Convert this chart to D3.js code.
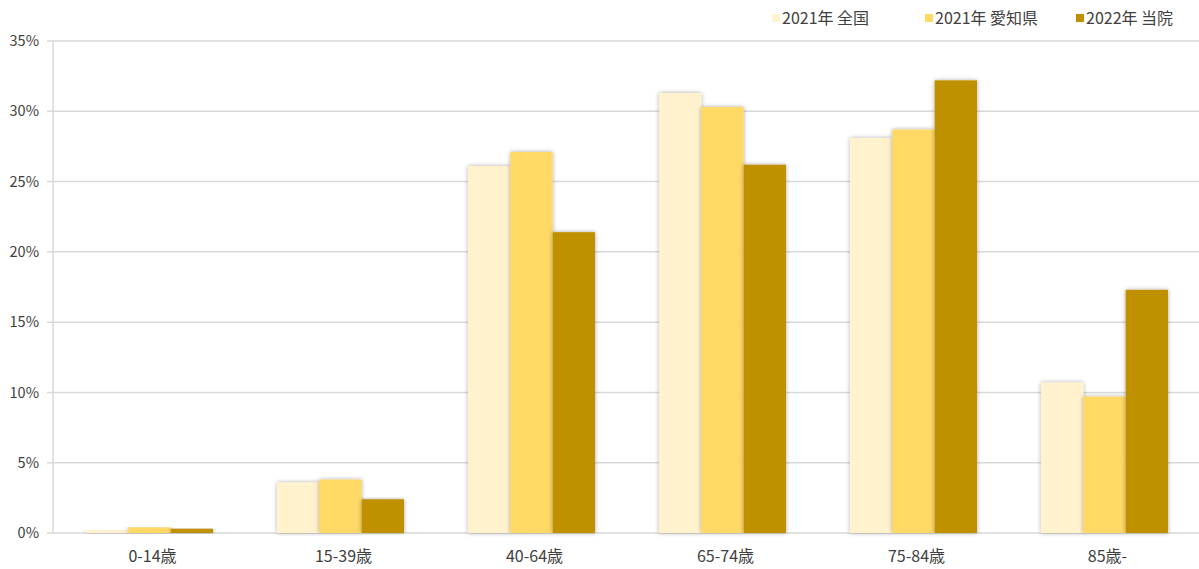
<!DOCTYPE html>
<html>
<head>
<meta charset="utf-8">
<script src="https://cdn.jsdelivr.net/npm/d3@7"></script>
<style>
  body { margin: 0; background: #fff; }
  text { font-family: "Noto Sans CJK JP", "Noto Sans", sans-serif; fill: #404040; }
</style>
</head>
<body>
<div id="chart"></div>
<script>
var categories = ["0-14歳", "15-39歳", "40-64歳", "65-74歳", "75-84歳", "85歳-"];
var seriesNames = ["2021年 全国", "2021年 愛知県", "2022年 当院"];
var national = [0.2, 3.6, 26.1, 31.3, 28.1, 10.7];
var aichi = [0.4, 3.8, 27.1, 30.3, 28.7, 9.7];
var hospital = [0.3, 2.4, 21.4, 26.2, 32.2, 17.3];
var yTicks = [0, 5, 10, 15, 20, 25, 30, 35];
var colors = ["#FFF2CC", "#FFD966", "#BF9000"];

var width = 1199, height = 569;
var margin = {top: 41, right: 0, bottom: 36, left: 53};

var values = [national, aichi, hospital];
var data = categories.map((c, i) => ({cat: c, vals: values.map(v => v[i])}));

var svg = d3.select("#chart").append("svg")
    .attr("width", width)
    .attr("height", height);

var defs = svg.append("defs");
var f = defs.append("filter").attr("id", "shadow")
    .attr("x", "-20%").attr("y", "-5%").attr("width", "140%").attr("height", "110%");
f.append("feDropShadow")
    .attr("dx", 0).attr("dy", 0).attr("stdDeviation", 2)
    .attr("flood-color", "#000").attr("flood-opacity", 0.35);

x0 = d3.scaleBand()
    .domain(categories)
    .range([margin.left + 1, width - margin.right + 1])
    .paddingInner(0.335)
    .paddingOuter(0.1675);

x1 = d3.scaleBand()
    .domain(d3.range(3))
    .range([0, x0.bandwidth()]);

y = d3.scaleLinear()
    .domain([0, 35])
    .range([height - margin.bottom, margin.top]);

// gridlines
svg.append("g")
    .selectAll("line")
    .data(yTicks)
    .join("line")
    .attr("x1", margin.left - 6)
    .attr("x2", width)
    .attr("y1", d => y(d))
    .attr("y2", d => y(d))
    .attr("stroke", "#d9d9d9")
    .attr("stroke-width", 1.5);

svg.append("line")
    .attr("x1", margin.left).attr("x2", margin.left)
    .attr("y1", y(35)).attr("y2", y(0))
    .attr("stroke", "#d9d9d9")
    .attr("stroke-width", 1.5);

svg.append("g")
    .selectAll("text")
    .data(yTicks)
    .join("text")
    .attr("x", margin.left - 14)
    .attr("y", d => y(d))
    .attr("dy", "0.35em")
    .attr("text-anchor", "end")
    .style("font-size", "14.5px")
    .text(d => d + "%");

// bars
const g = svg.append("g")
    .selectAll("g")
    .data(data)
    .join("g")
    .attr("transform", d => `translate(${x0(d.cat)},0)`);

g.selectAll("rect")
    .data(d => d.vals.map((v, i) => ({v: v, i: i})))
    .join("rect")
    .attr("x", d => x1(d.i))
    .attr("width", x1.bandwidth())
    .attr("y", d => y(d.v))
    .attr("height", d => y(0) - y(d.v))
    .attr("fill", d => colors[d.i])
    .attr("filter", "url(#shadow)");

svg.append("g")
    .selectAll("text")
    .data(categories)
    .join("text")
    .attr("x", d => x0(d) + x0.bandwidth() / 2 + 3)
    .attr("y", 562)
    .attr("text-anchor", "middle")
    .style("font-size", "16px")
    .text(d => d);

// legend
var legendX = [772, 925, 1076];
const lg = svg.append("g")
    .selectAll("g")
    .data(seriesNames)
    .join("g")
    .attr("transform", (d, i) => `translate(${legendX[i]},18)`);

lg.append("rect")
    .attr("x", 0).attr("y", -4)
    .attr("width", 8).attr("height", 8)
    .attr("fill", (d, i) => colors[i]);

lg.append("text")
    .attr("x", 10)
    .attr("dy", "0.35em")
    .style("font-size", "16px")
    .text(d => d);
</script>
</body>
</html>
